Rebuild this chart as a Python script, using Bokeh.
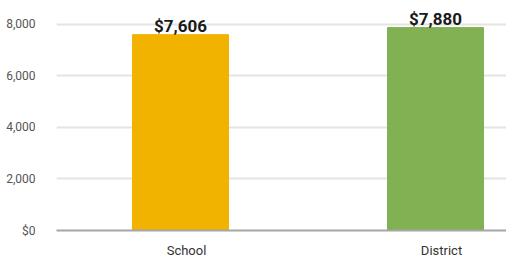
from bokeh.plotting import figure
from bokeh.models import Range1d, FixedTicker, ColumnDataSource
from bokeh.core.properties import value
from bokeh.embed import file_html
from bokeh.resources import INLINE

categories = ["School", "District"]
amounts = [7606, 7880]
bar_colors = ["#F2B300", "#82B153"]
value_labels = ["$7,606", "$7,880"]
y_ticks = [0, 2000, 4000, 6000, 8000]
y_tick_labels = ["$0", "2,000", "4,000", "6,000", "8,000"]

FONT = "Roboto"

xs = [i + 0.5 for i in range(len(categories))]
src = ColumnDataSource(dict(x=xs, top=amounts, color=bar_colors, label=value_labels))

p = figure(frame_width=450, frame_height=230, output_backend="svg", toolbar_location=None,
           x_range=Range1d(0.0137, 1.7784), y_range=Range1d(0, 8932),
           min_border_left=56, min_border_right=0, min_border_top=0, min_border_bottom=26)
p.outline_line_color = None
p.background_fill_color = "white"

p.vbar(x="x", top="top", width=0.3765, color="color", source=src)
p.text(x="x", y="top", text="label", source=src, text_align="center", text_baseline="bottom",
       y_offset=1, text_font=value(FONT), text_font_style="bold", text_font_size="17px",
       text_color="#1a1a1a")

p.xgrid.grid_line_color = None
p.ygrid.grid_line_color = "#e4e4e4"
p.ygrid.grid_line_width = 2
p.yaxis.ticker = FixedTicker(ticks=y_ticks)
p.yaxis.major_label_overrides = {t: l for t, l in zip(y_ticks, y_tick_labels)}
p.yaxis.axis_line_color = None
p.yaxis.major_tick_line_color = None
p.yaxis.minor_tick_line_color = None
p.yaxis.major_label_standoff = 15
p.yaxis.major_label_text_font = FONT
p.yaxis.major_label_text_font_size = "12px"
p.yaxis.major_label_text_color = "#555555"

p.xaxis.ticker = FixedTicker(ticks=[x + 0.0235 for x in xs])
p.xaxis.major_label_overrides = {x + 0.0235: c for x, c in zip(xs, categories)}
p.xaxis.axis_line_color = "#a6a6a6"
p.xaxis.axis_line_width = 2
p.xaxis.major_tick_line_color = None
p.xaxis.minor_tick_line_color = None
p.xaxis.major_label_standoff = 6
p.xaxis.major_label_text_font = FONT
p.xaxis.major_label_text_font_size = "13px"
p.xaxis.major_label_text_color = "#333333"

open("out.html", "w").write(file_html(p, INLINE))
